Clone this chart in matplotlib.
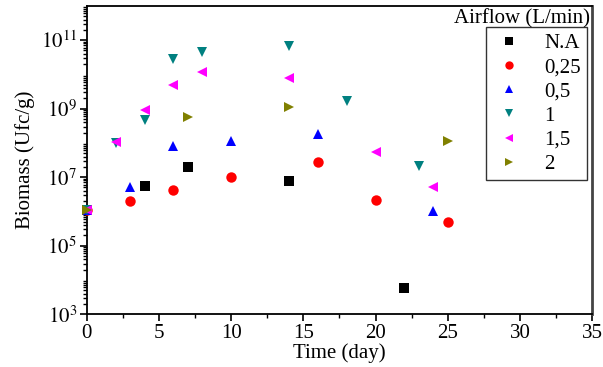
import numpy as np
import matplotlib.pyplot as plt
from matplotlib.ticker import LogLocator, MultipleLocator, NullFormatter

plt.rcParams['font.family'] = ['Liberation Serif', 'DejaVu Serif']
plt.rcParams['mathtext.fontset'] = 'stix'

# day, biomass (Ufc/g) for each airflow
na_day = [0, 4, 7, 14, 22]
na_val = [1.1e6, 5.5e6, 2.0e7, 7.6e6, 5.8e3]

a025_day = [0, 3, 6, 10, 16, 20, 25]
a025_val = [1.1e6, 1.95e6, 4.2e6, 1.0e7, 2.8e7, 2.1e6, 4.8e5]

a05_day = [0, 3, 6, 10, 16, 24]
a05_val = [1.1e6, 5.2e6, 8.1e7, 1.15e8, 1.8e8, 1.0e6]

a1_day = [0, 2, 4, 6, 8, 14, 18, 23]
a1_val = [1.1e6, 1.0e8, 4.8e8, 2.8e10, 4.4e10, 6.6e10, 1.7e9, 2.1e7]

a15_day = [0, 2, 4, 6, 8, 14, 20, 24]
a15_val = [1.1e6, 1.07e8, 9.4e8, 4.8e9, 1.15e10, 7.6e9, 5.5e7, 5.2e6]

a2_day = [0, 7, 14, 25]
a2_val = [1.1e6, 5.8e8, 1.15e9, 1.15e8]

series = [
    (na_day, na_val, 's', 'black', 'N.A'),
    (a025_day, a025_val, 'o', 'red', '0,25'),
    (a05_day, a05_val, '^', 'blue', '0,5'),
    (a1_day, a1_val, 'v', '#008080', '1'),
    (a15_day, a15_val, '<', 'magenta', '1,5'),
    (a2_day, a2_val, '>', '#808000', '2'),
]

fig = plt.figure(figsize=(6.03, 3.67), dpi=100)
ax = fig.add_axes([0.144, 0.144, 0.838, 0.840])

for d, v, m, c, lab in series:
    ax.plot(d, v, linestyle='none', marker=m, color=c, markersize=7.5,
            markeredgewidth=0, label=lab, clip_on=False, zorder=3)

ax.set_yscale('log')
ax.set_xlim(0, 35)
ax.set_ylim(1e3, 1e12)
ax.xaxis.set_major_locator(MultipleLocator(5))
ax.xaxis.set_minor_locator(MultipleLocator(2.5))
ax.set_yticks([1e3, 1e5, 1e7, 1e9, 1e11])
ax.set_yticklabels(['$10^3$', '$10^5$', '$10^7$', '$10^9$', '$10^{11}$'])
ax.yaxis.set_minor_locator(LogLocator(base=10, subs=np.arange(2, 10), numticks=20))
ax.yaxis.set_minor_formatter(NullFormatter())

ax.tick_params(axis='both', which='major', direction='out', length=5, width=1.2, labelsize=15)
ax.tick_params(axis='both', which='minor', direction='out', length=3, width=1)
ax.tick_params(axis='y', which='major', pad=2)
ax.tick_params(axis='x', which='major', pad=2)

for s in ['left', 'bottom', 'top']:
    ax.spines[s].set_linewidth(1.3)
ax.spines['right'].set_linewidth(2)
ax.spines['right'].set_color('#444444')

ax.set_xlabel('Time (day)', fontsize=15, labelpad=0)
ax.set_ylabel('Biomass (Ufc/g)', fontsize=15, labelpad=4)

leg = ax.legend(loc='upper right', bbox_to_anchor=(0.99, 0.93), fontsize=15,
                frameon=True, fancybox=False, edgecolor='black', handletextpad=0.9,
                labelspacing=0.22, borderpad=0.3, borderaxespad=0.0,
                handlelength=1.6, markerscale=0.8)
leg.get_frame().set_linewidth(1)
ax.text(0.995, 0.99, 'Airflow (L/min)', transform=ax.transAxes, ha='right', va='top', fontsize=15)

fig.savefig('out.png', dpi=100)
